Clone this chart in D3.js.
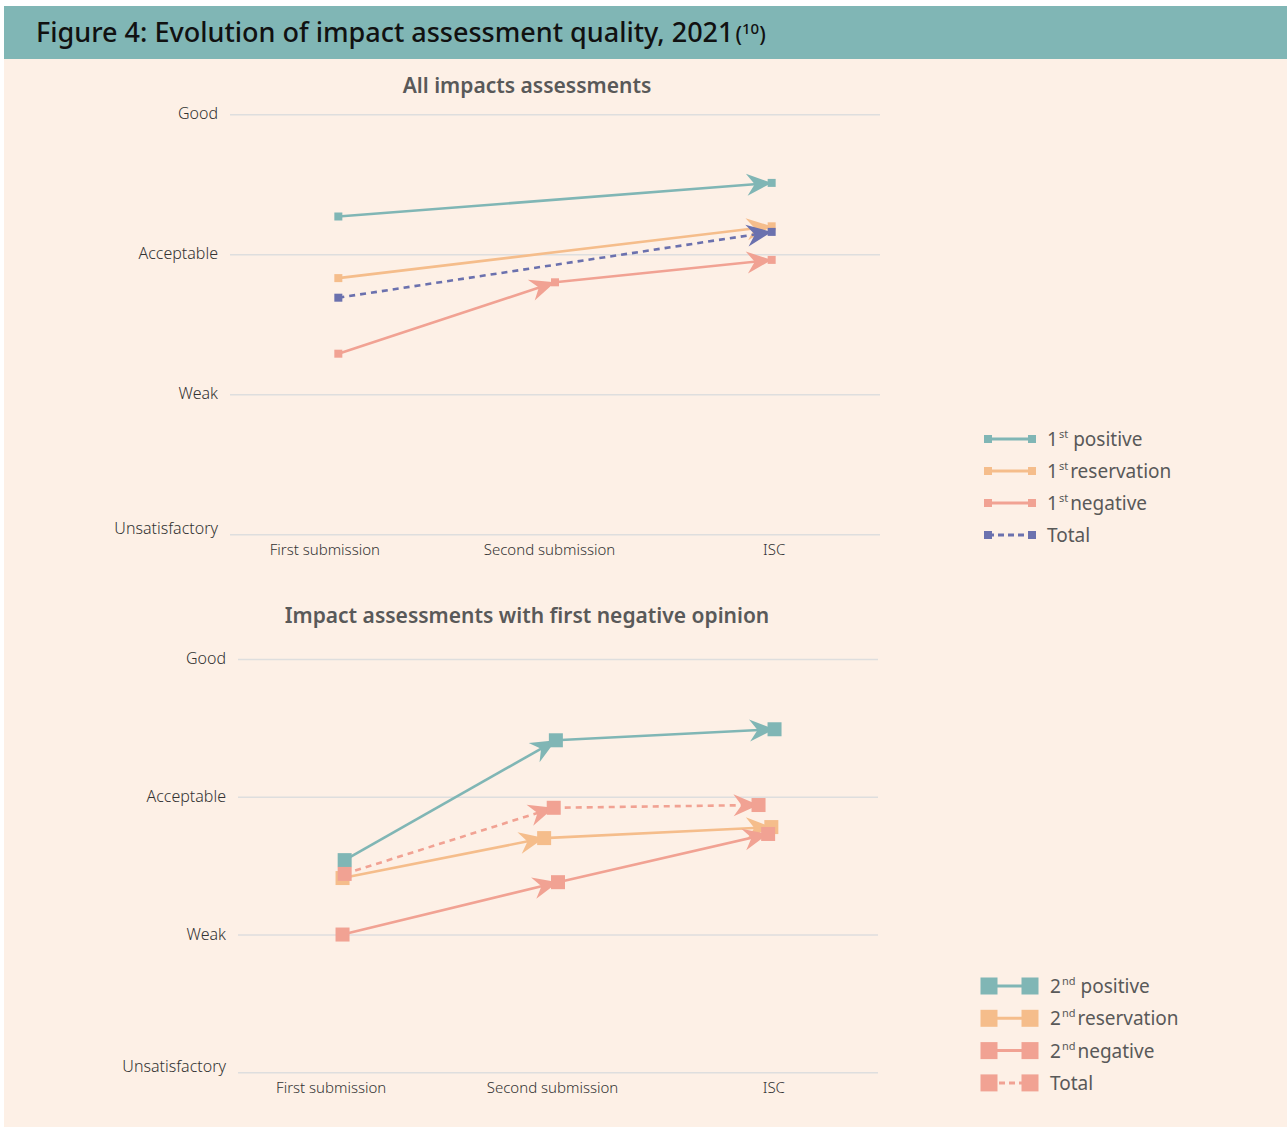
<!DOCTYPE html>
<html>
<head>
<meta charset="utf-8">
<script src="https://cdn.jsdelivr.net/npm/d3@7"></script>
<style>
  html, body { margin: 0; padding: 0; background: #ffffff; }
  svg { display: block; }
  text { font-family: "Noto Sans", "Open Sans", sans-serif; }
</style>
</head>
<body>
<svg id="fig" width="1287" height="1127"></svg>
<script>
// Quality scale (1 = Unsatisfactory ... 4 = Good) and submission stages
const levels = ["Unsatisfactory", "Weak", "Acceptable", "Good"];
const stages = ["First submission", "Second submission", "ISC"];

// Top panel: all impact assessments, by first opinion (null = no value at that stage)
const allPositive    = [3.27, null, 3.51];
const allReservation = [2.83, null, 3.20];
const allNegative    = [2.29, 2.80, 2.96];
const allTotal       = [2.69, null, 3.16];

// Bottom panel: assessments with a first negative opinion, by second opinion
const negPositive    = [2.54, 3.41, 3.49];
const negReservation = [2.41, 2.70, 2.78];
const negNegative    = [2.00, 2.38, 2.73];
const negTotal       = [2.44, 2.92, 2.94];
// horizontal placement of each point along the stage axis (0 = first, 2 = ISC)
const negPositivePos    = [0.00, 0.99, 2.015];
const negReservationPos = [-0.01, 0.935, 2.00];
const negNegativePos    = [-0.01, 1.00, 1.985];
const negTotalPos       = [0.00, 0.98, 1.94];

const colors = { positive: "#80b6b5", reservation: "#f5bd8b", negative: "#f1a293", total: "#6b71ae" };

const svg = d3.select("#fig");

// panel background and header band
svg.append("rect").attr("x", 4).attr("y", 6).attr("width", 1283).attr("height", 1121).attr("fill", "#fdf0e6");
svg.append("rect").attr("x", 4).attr("y", 6).attr("width", 1283).attr("height", 53).attr("fill", "#80b6b5");
const head = svg.append("text").attr("x", 36).attr("y", 42)
  .attr("font-size", 27).attr("fill", "#111").attr("font-weight", 500);
head.append("tspan").text("Figure 4: Evolution of impact assessment quality, 2021");
head.append("tspan").attr("font-size", 21).attr("dx", 2).text("(");
head.append("tspan").attr("font-size", 15).attr("dy", -8).text("10");
head.append("tspan").attr("font-size", 21).attr("dy", 8).text(")");

// arrowhead markers, one per colour
const defs = svg.append("defs");
Object.entries(colors).forEach(([k, c]) => {
  defs.append("marker")
    .attr("id", "arrow-" + k)
    .attr("markerUnits", "userSpaceOnUse")
    .attr("viewBox", "-28 -13 30 26")
    .attr("markerWidth", 30).attr("markerHeight", 26)
    .attr("refX", 0).attr("refY", 0)
    .attr("orient", "auto")
    .append("path")
    .attr("d", "M0,0 L-25,-11 L-17,0 L-25,11 Z")
    .attr("fill", c);
});

function drawPanel(cfg) {
  const g = svg.append("g");
  const y = d3.scaleLinear().domain([1, 4]).range([cfg.bottom, cfg.top]);
  const xCat = d3.scalePoint().domain(stages).range([cfg.left, cfg.right]).padding(0.5);
  const xPos = d3.scaleLinear().domain([0, 2]).range([xCat(stages[0]), xCat(stages[2])]);
  const xLab = d3.scalePoint().domain(stages).range([cfg.left - cfg.labShift, cfg.right + cfg.labShift / 3]).padding(0.5);

  // title
  g.append("text").attr("x", 527).attr("y", cfg.titleY).attr("text-anchor", "middle")
    .attr("font-size", 21).attr("font-weight", 600).attr("fill", "#595959").text(cfg.title);

  // horizontal gridlines with level labels
  const yAxis = d3.axisLeft(y).tickValues([1, 2, 3, 4]).tickFormat(v => levels[v - 1])
    .tickSize(-(cfg.right - cfg.left)).tickPadding(12);
  const ya = g.append("g").attr("transform", `translate(${cfg.left},0)`).call(yAxis);
  ya.select(".domain").remove();
  ya.selectAll(".tick line").attr("stroke", "#dedede").attr("stroke-width", 1.5);
  ya.selectAll(".tick text").attr("font-size", 16).attr("fill", "#333").attr("font-weight", 300)
    .attr("font-family", "'Noto Sans', sans-serif")
    .attr("dy", v => v === 1 ? "-0.05em" : "0.28em");

  // stage labels
  const xAxis = d3.axisBottom(xLab).tickSize(0).tickPadding(10);
  const xa = g.append("g").attr("transform", `translate(0,${cfg.bottom})`).call(xAxis);
  xa.select(".domain").remove();
  xa.selectAll(".tick text").attr("font-size", 15).attr("fill", "#333").attr("font-weight", 300)
    .attr("font-family", "'Noto Sans', sans-serif");

  // series: one path per segment, arrowhead at each segment end, square markers on top
  cfg.series.forEach(s => {
    const pts = s.values.map((v, i) => ({ v, p: s.pos ? s.pos[i] : i })).filter(d => d.v !== null);
    for (let i = 1; i < pts.length; i++) {
      g.append("path")
        .attr("d", d3.line().x(d => xPos(d.p)).y(d => y(d.v))([pts[i - 1], pts[i]]))
        .attr("fill", "none").attr("stroke", colors[s.key]).attr("stroke-width", 2.6)
        .attr("stroke-dasharray", s.dashed ? "6,5" : null)
        .attr("marker-end", `url(#arrow-${s.key})`);
    }
    s.pts = pts;
  });
  cfg.series.forEach(s => {
    g.selectAll(null).data(s.pts).join("rect")
      .attr("x", d => xPos(d.p) - cfg.mark / 2).attr("y", d => y(d.v) - cfg.mark / 2)
      .attr("width", cfg.mark).attr("height", cfg.mark)
      .attr("fill", s.fill || colors[s.key]);
  });

  // legend
  const lg = g.append("g");
  cfg.series.forEach((s, i) => {
    const ly = cfg.legY + i * cfg.legStep;
    const c = colors[s.key];
    lg.append("line").attr("x1", cfg.legX).attr("x2", cfg.legX + cfg.legW).attr("y1", ly).attr("y2", ly)
      .attr("stroke", c).attr("stroke-width", 3).attr("stroke-dasharray", s.dashed ? "6,4" : null);
    [cfg.legX, cfg.legX + cfg.legW].forEach(mx => {
      lg.append("rect").attr("x", mx - cfg.legMark / 2).attr("y", ly - cfg.legMark / 2)
        .attr("width", cfg.legMark).attr("height", cfg.legMark).attr("fill", c);
    });
    const t = lg.append("text").attr("x", cfg.legText).attr("y", ly + 7)
      .attr("font-size", 19).attr("fill", "#595959");
    if (s.ord) {
      t.append("tspan").text(s.ord[0]);
      t.append("tspan").attr("font-size", 11).attr("dy", -8).attr("dx", 1).text(s.ord[1]);
      t.append("tspan").attr("dy", 8).attr("dx", s.gap).text(s.label);
    } else {
      t.text(s.label);
    }
  });
}

drawPanel({
  title: "All impacts assessments", titleY: 93,
  left: 230, right: 880, top: 114.3, bottom: 534.3, labShift: 18, mark: 8,
  legX: 988, legW: 44, legMark: 8, legText: 1047, legY: 439, legStep: 32,
  series: [
    { key: "positive", values: allPositive, ord: ["1", "st"], label: "positive", gap: 5 },
    { key: "reservation", values: allReservation, ord: ["1", "st"], label: "reservation", gap: 2 },
    { key: "negative", values: allNegative, ord: ["1", "st"], label: "negative", gap: 2 },
    { key: "total", values: allTotal, dashed: true, label: "Total" }
  ]
});

drawPanel({
  title: "Impact assessments with first negative opinion", titleY: 623,
  left: 238, right: 878, top: 659, bottom: 1072.3, labShift: 18, mark: 14,
  legX: 989, legW: 41, legMark: 17, legText: 1050, legY: 986, legStep: 32.3,
  series: [
    { key: "positive", values: negPositive, pos: negPositivePos, ord: ["2", "nd"], label: "positive", gap: 5 },
    { key: "reservation", values: negReservation, pos: negReservationPos, ord: ["2", "nd"], label: "reservation", gap: 2 },
    { key: "negative", values: negNegative, pos: negNegativePos, ord: ["2", "nd"], label: "negative", gap: 2 },
    { key: "negative", values: negTotal, pos: negTotalPos, dashed: true, label: "Total" }
  ]
});
</script>
</body>
</html>
